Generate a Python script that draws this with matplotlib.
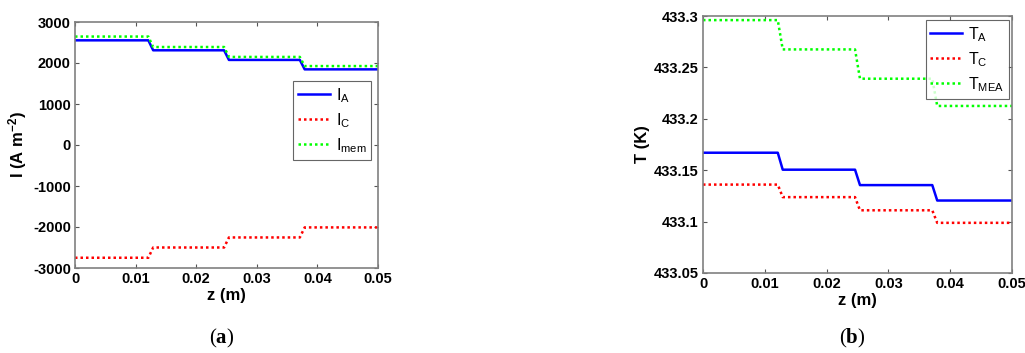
import numpy as np
import matplotlib.pyplot as plt

plt.rcParams.update({
    "font.family": ["Liberation Sans", "DejaVu Sans"],
    "font.size": 10.5,
    "axes.unicode_minus": False,
    "mathtext.fontset": "custom",
    "mathtext.rm": "Liberation Sans",
    "mathtext.it": "Liberation Sans",
    "mathtext.bf": "Liberation Serif:bold",
    "mathtext.default": "regular",
})

# axial position (m), step edges included
z = [0.0, 0.0121, 0.0129, 0.0246, 0.0254, 0.0371, 0.0379, 0.05]

# (a) current density, A m^-2
I_A = [2553, 2553, 2310, 2310, 2075, 2075, 1845, 1845]
I_C = [-2750, -2750, -2500, -2500, -2255, -2255, -2010, -2010]
I_mem = [2645, 2645, 2390, 2390, 2148, 2148, 1925, 1925]

# (b) temperature, K
T_A = [433.167, 433.167, 433.1505, 433.1505, 433.1355, 433.1355, 433.1205, 433.1205]
T_C = [433.136, 433.136, 433.1238, 433.1238, 433.111, 433.111, 433.0988, 433.0988]
T_MEA = [433.296, 433.296, 433.2675, 433.2675, 433.239, 433.239, 433.2125, 433.2125]

W, H = 1025, 353
fig = plt.figure(figsize=(W / 100, H / 100), dpi=100)

ax1 = fig.add_axes([75 / W, 1 - 268 / H, 303 / W, 246 / H])
ax2 = fig.add_axes([703 / W, 1 - 273 / H, 309 / W, 257 / H])

dot = (0, (1, 1.2))
ax1.plot(z, I_A, color="#0000ff", lw=1.8, label="I$_A$")
ax1.plot(z, I_C, color="#ff0000", lw=1.8, ls=dot, label="I$_C$")
ax1.plot(z, I_mem, color="#00ff00", lw=1.8, ls=dot, label="I$_{mem}$")
ax1.set_ylim(-3000, 3000)
ax1.set_yticks(np.arange(-3000, 3001, 1000))
ax1.set_ylabel("I (A m$^{-2}$)", fontweight="bold", fontsize=12, labelpad=3)

ax2.plot(z, T_A, color="#0000ff", lw=1.8, label="T$_A$")
ax2.plot(z, T_C, color="#ff0000", lw=1.8, ls=dot, label="T$_C$")
ax2.plot(z, T_MEA, color="#00ff00", lw=1.8, ls=dot, label="T$_{MEA}$")
ax2.set_ylim(433.05, 433.3)
ax2.set_yticks([433.05, 433.1, 433.15, 433.2, 433.25, 433.3])
ax2.set_yticklabels(["433.05", "433.1", "433.15", "433.2", "433.25", "433.3"])
ax2.set_ylabel("T (K)", fontweight="bold", fontsize=12, labelpad=3)

for ax in (ax1, ax2):
    ax.set_xlim(0, 0.05)
    ax.set_xticks([0, 0.01, 0.02, 0.03, 0.04, 0.05])
    ax.set_xticklabels(["0", "0.01", "0.02", "0.03", "0.04", "0.05"])
    ax.set_xlabel("z (m)", fontweight="bold", fontsize=12, labelpad=1)
    ax.tick_params(direction="in", top=True, right=True, length=3,
                   color="#555555", labelsize=10.5, pad=3)
    for lab in ax.get_xticklabels() + ax.get_yticklabels():
        lab.set_fontweight("bold")
    for s in ax.spines.values():
        s.set_color("#808080")
        s.set_linewidth(1.2)

leg1 = ax1.legend(loc="upper right", bbox_to_anchor=(0.977, 0.76), frameon=True,
                  fancybox=False, edgecolor="#404040", fontsize=11.5,
                  handlelength=2.0, borderpad=0.3, labelspacing=0.4,
                  handletextpad=0.35, borderaxespad=0)
leg1.get_frame().set_linewidth(0.8)
leg2 = ax2.legend(loc="upper right", bbox_to_anchor=(0.99, 0.984), frameon=True,
                  fancybox=False, edgecolor="#404040", fontsize=11.5,
                  handlelength=2.0, borderpad=0.3, labelspacing=0.4,
                  handletextpad=0.35, borderaxespad=0)
leg2.get_frame().set_linewidth(0.8)

fig.text(222 / W, 1 - 338 / H, "($\\mathbf{a}$)", ha="center", va="center",
         family=["Liberation Serif", "DejaVu Serif"], fontsize=15)
fig.text(852 / W, 1 - 338 / H, "($\\mathbf{b}$)", ha="center", va="center",
         family=["Liberation Serif", "DejaVu Serif"], fontsize=15)

fig.savefig("out.png", dpi=100)
